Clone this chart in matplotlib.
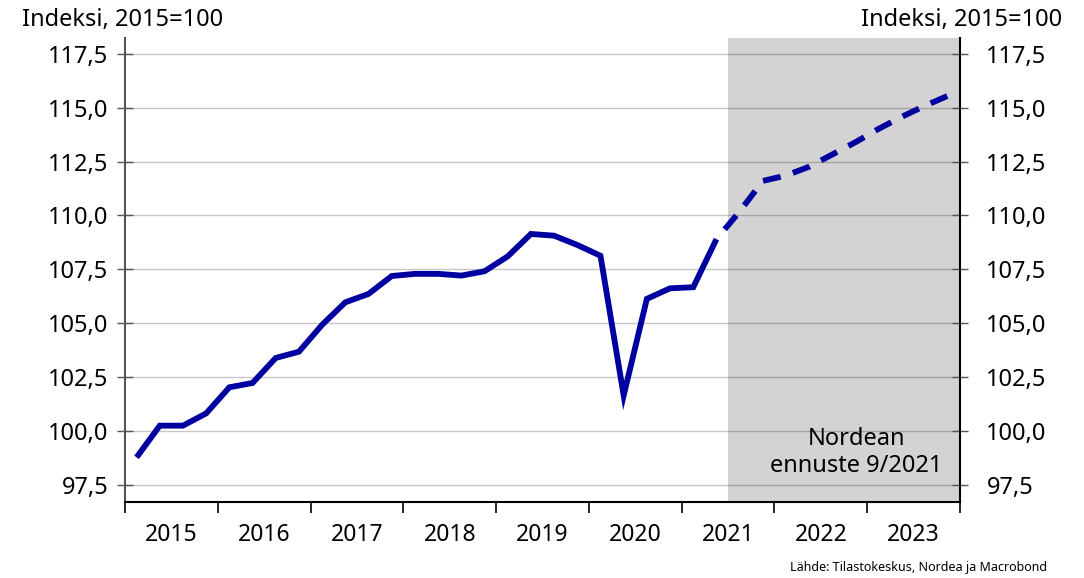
import matplotlib
matplotlib.use("Agg")
import matplotlib.pyplot as plt
from matplotlib.ticker import FixedLocator, FuncFormatter, NullFormatter

plt.rcParams['font.family'] = ['Noto Sans', 'DejaVu Sans']

# quarterly index, 2015Q1 .. 2021Q2 (history)
hist = [98.78, 100.25, 100.25, 100.82,
        102.03, 102.23, 103.39, 103.68,
        104.93, 105.97, 106.36, 107.19,
        107.29, 107.29, 107.21, 107.41,
        108.10, 109.14, 109.06, 108.63,
        108.13, 101.65, 106.13, 106.62,
        106.67, 108.90]
# forecast 2021Q2 .. 2023Q4
fcst = [108.90, 110.18, 111.60,
        111.85, 112.26, 112.83, 113.40,
        114.02, 114.58, 115.09, 115.56]
years = list(range(2015, 2024))
y_ticks = [97.5, 100.0, 102.5, 105.0, 107.5, 110.0, 112.5, 115.0, 117.5]
forecast_start = 2021.5

def qx(start_year, start_q, n):
    out = []
    for k in range(n):
        q = start_q - 1 + k
        out.append(start_year + q // 4 + ((q % 4) + 0.5) / 4)
    return out

x_hist = qx(2015, 1, len(hist))
x_fcst = qx(2021, 2, len(fcst))

blue = '#0000A0'
fig = plt.figure(figsize=(10.84, 5.78), dpi=100)
ax = fig.add_axes([0.1153, 0.1315, 0.7703, 0.8032])

ax.axvspan(forecast_start, 2024, color='#d3d3d3', lw=0, zorder=0)
ax.plot(x_hist, hist, color=blue, lw=4.2, solid_capstyle='butt',
        solid_joinstyle='miter', zorder=3)
ax.plot(x_fcst, fcst, color=blue, lw=4.2, ls=(3.1, (3.1, 2.2)),
        dash_capstyle='butt', zorder=3)

ax.set_xlim(2015, 2024)
ax.set_ylim(96.71, 118.24)

fmt = FuncFormatter(lambda v, p: f"{v:.1f}".replace('.', ','))
ax.yaxis.set_major_locator(FixedLocator(y_ticks))
ax.yaxis.set_major_formatter(fmt)
ax.grid(axis='y', color='black', alpha=0.22, lw=1, zorder=1)
ax.set_axisbelow(False)

ax.xaxis.set_major_locator(FixedLocator(list(range(2015, 2025))))
ax.xaxis.set_major_formatter(NullFormatter())
ax.xaxis.set_minor_locator(FixedLocator([y + 0.5 for y in years]))
ax.xaxis.set_minor_formatter(FuncFormatter(lambda v, p: str(int(v))))
ax.tick_params(axis='x', which='major', direction='out', length=8, width=1.2, color='black')
ax.tick_params(axis='x', which='minor', length=0, pad=15, labelsize=16.5)
ax.tick_params(axis='y', direction='inout', length=12, width=1, color='#555555',
               labelsize=17, pad=6)

for s in ['top', 'right']:
    ax.spines[s].set_visible(False)
ax.spines['left'].set_color('#555555')
ax.spines['left'].set_linewidth(1.5)
ax.spines['bottom'].set_color('black')
ax.spines['bottom'].set_linewidth(1.5)

ax2 = ax.twinx()
ax2.set_ylim(ax.get_ylim())
ax2.yaxis.set_major_locator(FixedLocator(y_ticks))
ax2.yaxis.set_major_formatter(fmt)
ax2.tick_params(axis='y', direction='inout', length=12, width=1, color='#555555',
                labelsize=17, pad=13)
for s in ['top', 'left', 'bottom']:
    ax2.spines[s].set_visible(False)
ax2.spines['right'].set_color('black')
ax2.spines['right'].set_linewidth(1.5)

ax.text(2022.88, 99.0, "Nordean\nennuste 9/2021", ha='center', va='center',
        fontsize=17, linespacing=1.15, zorder=4)

fig.text(22 / 1084, 1 - 20 / 578, "Indeksi, 2015=100", ha='left', va='center', fontsize=17)
fig.text(1062 / 1084, 1 - 20 / 578, "Indeksi, 2015=100", ha='right', va='center', fontsize=17)
fig.text(1047 / 1084, 1 - 568 / 578, "Lähde: Tilastokeskus, Nordea ja Macrobond",
         ha='right', va='center', fontsize=9)

fig.savefig('out.png', dpi=100)
